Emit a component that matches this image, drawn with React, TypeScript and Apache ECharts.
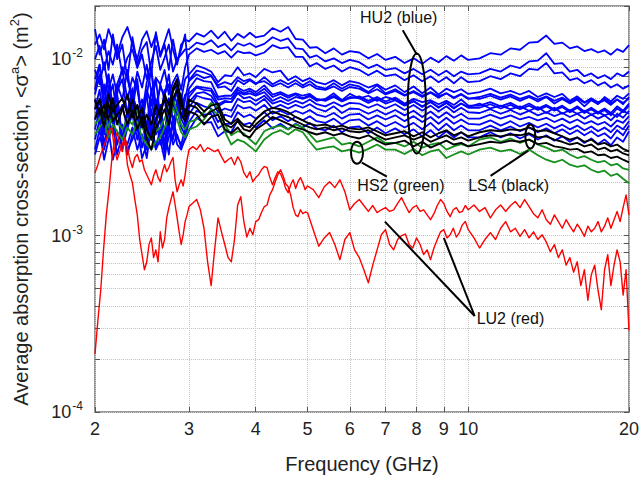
import React, { useEffect, useRef } from "react";
import * as echarts from "echarts";

// Frequency grid (GHz) for the HU2 / HS2 / LS4 curves
const FREQ_GHZ = [
  2.0, 2.04, 2.08, 2.12, 2.16, 2.2, 2.25, 2.3, 2.35, 2.4, 2.45, 2.5, 2.55, 2.6, 2.65, 2.7, 2.75, 2.8, 2.85, 2.9, 2.95,
  3.0, 3.1, 3.2, 3.3, 3.4, 3.5, 3.6, 3.7, 3.8, 3.9, 4.0,
  4.15, 4.3, 4.45, 4.6, 4.75, 4.9, 5.05, 5.2,
  5.4, 5.6, 5.8, 6.0,
  6.25, 6.5, 6.75, 7.0,
  7.3, 7.6, 7.9, 8.2, 8.5, 8.8, 9.1, 9.4, 9.7, 10.0,
  10.5, 11, 11.5, 12, 12.5, 13, 13.5, 14, 14.5, 15, 15.5, 16, 16.5, 17, 17.5, 18, 18.5, 19, 19.5, 20,
];

// Finer frequency grid (GHz) for the LU2 curves
const RED_FREQ_GHZ = [
  2.0, 2.025, 2.05, 2.075, 2.1, 2.125, 2.15, 2.175, 2.2, 2.225, 2.25, 2.275, 2.3, 2.325, 2.35, 2.375, 2.4, 2.425, 2.45, 2.475,
  2.5, 2.525, 2.55, 2.575, 2.6, 2.625, 2.65, 2.675, 2.7, 2.725, 2.75, 2.775, 2.8, 2.825, 2.85, 2.875, 2.9, 2.925, 2.95, 2.975, 3.0,
  3.05, 3.1, 3.15, 3.2, 3.25, 3.3, 3.35, 3.4, 3.45, 3.5, 3.55, 3.6, 3.65, 3.7, 3.75, 3.8, 3.85, 3.9, 3.95, 4.0,
  4.05, 4.1, 4.15, 4.2, 4.25, 4.3, 4.35, 4.4, 4.45, 4.5, 4.55, 4.6, 4.65, 4.7, 4.75, 4.8, 4.85, 4.9, 4.95, 5.0,
  5.125, 5.25, 5.375, 5.5, 5.625, 5.75, 5.875, 6.0, 6.125, 6.25, 6.375, 6.5, 6.625, 6.75, 6.875, 7.0, 7.125, 7.25, 7.375, 7.5,
  7.625, 7.75, 7.875, 8.0, 8.125, 8.25, 8.375, 8.5, 8.625, 8.75, 8.875, 9.0, 9.125, 9.25, 9.375, 9.5, 9.625, 9.75, 9.875, 10.0,
  10.25, 10.5, 10.75, 11, 11.25, 11.5, 11.75, 12, 12.25, 12.5, 12.75, 13, 13.25, 13.5, 13.75, 14, 14.25, 14.5, 14.75, 15,
  15.25, 15.5, 15.75, 16, 16.25, 16.5, 16.75, 17, 17.25, 17.5, 17.75, 18, 18.25, 18.5, 18.75, 19, 19.25, 19.5, 19.75, 20,
];

// Absorption cross-section values, in units of 1e-3 m^2
const BLUE_1 = [12.1,13.8,11.35,14.8,12.5,10.6,13.3,15.2,12.1,10,12.9,14.4,11.7,13.8,10.6,12.5,14.8,11.35,9.3,12.1,12.9, 12.6,14.0,13.4,14.5,13.1,14.3,12.7,13.9,13.2,14.1,13.3, 13.6,15.0,14.3,15.2,13.0,12.9,11.6,11.7, 10.8,11.5,10.6,11.1, 10.9,10.1,10.7,9.9, 10.3,9.5,10.1,9.4,10.2,9.6,10.4,9.8,10.5,9.9, 10.1,10.8,10.6,11.5,11.3,12.4,12.5,13.6,12.2,12.4,11.5,11.8,11.1,11.4,10.9,11.2,10.6,11.4,11.0,12.0];
const BLUE_2 = [10,11.9,8.7,11.1,9.3,12.1,8.2,10.2,11.35,8.9,10.6,7.7,9.7,11.9,8.7,10.2,12.1,8.5,10,10.6,11.35, 11.4,12.4,12.1,12.8,11.7,12.2,11.2,12.3,11.9,12.3,11.7, 12.2,13.3,12.7,13.1,11.5,11.4,10.2,10.5, 9.7,10.1,9.5,9.9, 9.6,8.9,9.3,8.7, 8.9,8.3,8.8,8.2,8.7,8.1,8.6,8.0,8.5,8.2, 8.3,8.8,8.5,9.2,8.9,9.7,9.8,10.8,9.4,9.5,8.5,8.7,8.0,8.3,7.8,8.1,7.7,8.3,8.0,8.5];
const BLUE_3 = [8.7,7.2,9.6,6.7,8.2,6.3,9.0,7.7,5.9,8.5,6.9,9.3,6.5,7.85,7.2,8.7,6.3,7.4,8.2,6.7,9.0, 10.6,11.5,11.0,11.3,10.7,11.1,10.2,11.1,10.8,10.9,10.5, 10.9,12.0,11.5,11.7,10.3,10.3,9.1,9.5, 8.8,9.2,8.5,9.0, 8.7,8.1,8.6,8.0, 8.2,7.6,8.1,7.5,8.0,7.4,7.9,7.3,7.9,7.4, 7.5,8.0,7.7,8.3,8.0,8.8,8.7,9.5,8.3,8.4,7.6,7.8,7.3,7.6,7.1,7.4,6.9,7.2,6.8,7.1];
const BLUE_4 = [7.7,9.3,6.3,8.2,5.2,7.2,8.7,5.9,7.85,6.7,4.85,7.4,8.7,5.5,6.9,6.3,8.2,5.2,7.2,5.9,7.7, 8.2,9.2,8.9,8.5,7.4,8.1,8.0,9.0,8.1,8.3,7.9, 8.8,8.4,8.6,7.6,8.0,7.5,7.8,7.4, 7.2,7.6,7.1,7.5, 7.3,6.9,7.2,6.7, 7.1,6.5,7.0,6.4,6.9,6.3,6.8,6.5,6.75,6.35, 6.5,6.8,6.4,6.6,6.3,6.6,6.1,6.4,6.1,6.35,5.8,6.15,5.7,6.0,5.7,5.95,5.6,5.9,5.55,6.1];
const BLUE_5 = [6.3,8.2,5.2,6.85,4.55,6.6,7.7,4.85,6.1,7.2,4.26,6.7,5.5,7.7,4.7,6.3,7.2,5.3,6.6,4.55,5.9, 7.6,8.6,8.4,8.1,6.9,7.0,6.6,7.6,7.2,7.6,7.2, 7.9,7.2,7.6,7.2,7.6,7.1,7.5,7.0, 6.8,7.3,6.8,7.2, 7.0,6.5,7.1,6.4, 6.75,6.25,6.6,6.2,6.5,6.15,6.4,6.05,6.35,6.0, 5.95,6.2,5.9,6.15,5.8,6.1,5.75,6.1,5.6,5.95,5.6,5.9,5.4,5.85,5.55,6.1,5.75,6.2,5.95,6.4];
const BLUE_6 = [5.2,6.7,4.26,5.9,7.2,4.7,5.5,4.0,6.3,5.1,5.9,4.1,6.7,4.85,5.5,3.74,6.0,4.55,5.2,6.3,4.85, 6.8,7.8,7.5,7.4,6.1,6.2,6.2,6.9,6.6,6.8,6.5, 7.1,6.3,6.5,6.2,6.4,6.2,6.35,5.95, 5.8,6.1,5.75,6.0, 6.15,5.8,6.1,5.75, 6.05,5.6,5.95,5.7,5.85,5.55,5.8,5.5,5.9,5.45, 5.45,5.7,5.4,5.65,5.3,5.6,5.25,5.5,5.2,5.45,5.1,5.4,5.05,5.3,5.0,5.25,4.95,5.4,5.1,5.6];
const BLUE_7 = [5.9,4.55,7.2,4.0,5.3,6.3,3.5,5.05,6.85,4.26,5.5,6.3,3.74,5.9,4.55,6.7,4.1,5.5,4.85,5.9,4.26, 5.7,6.4,6.5,6.2,5.4,5.7,5.7,6.5,6.3,6.4,6.2, 6.5,5.8,6.1,5.8,6.1,5.95,6.15,5.8, 5.95,6.4,5.85,6.35, 6.0,6.2,5.8,6.1, 5.9,5.5,5.8,5.35,5.75,5.3,5.65,5.25,5.6,5.35, 5.6,5.25,5.45,5.2,5.4,5.1,5.35,4.95,5.3,4.9,5.15,4.9,5.1,4.85,5.0,4.8,4.95,4.7,5.1,4.9];
const BLUE_8 = [4.55,5.9,3.74,5.2,4.26,6.3,3.5,4.6,5.5,4.0,5.05,3.5,5.9,4.26,5.2,3.28,4.85,4.0,5.9,4.6,4.1, 6.1,6.9,6.7,6.6,5.55,5.8,5.7,6.4,6.0,6.1,5.8, 6.2,5.6,5.8,5.55,5.8,5.6,5.9,5.55, 5.4,5.7,5.4,5.65, 5.6,5.3,5.55,5.25, 5.55,5.15,5.5,5.1,5.45,5.05,5.4,5.0,5.3,5.0, 4.95,5.2,4.9,5.15,4.85,5.1,4.8,5.0,4.75,4.95,4.7,4.9,4.6,4.85,4.6,4.8,4.5,4.9,4.65,5.1];
const BLUE_9 = [4.0,5.2,3.28,4.55,3.74,5.5,3.07,4.1,4.85,3.5,4.55,3.07,5.2,3.74,4.6,3.07,4.26,3.5,5.2,4.1,3.74, 5.3,6.2,6.0,5.9,5.0,5.25,5.1,5.95,5.7,5.8,5.5, 5.95,5.25,5.5,5.25,5.5,5.3,5.55,5.25, 5.05,5.4,4.95,5.25, 5.2,4.9,5.15,4.85, 5.15,4.8,5.1,4.7,5.05,4.65,5.0,4.65,4.9,4.6, 4.6,4.85,4.6,4.8,4.55,4.7,4.5,4.65,4.4,4.6,4.35,4.55,4.3,4.45,4.25,4.4,4.15,4.5,4.35,4.75];
const BLUE_10 = [3.5,4.55,3.07,4.0,4.85,3.28,4.26,2.88,3.74,4.55,3.15,4.1,3.5,4.6,3.28,4.0,2.88,4.55,3.6,3.28,4.0, 4.85,5.65,5.4,5.25,4.4,4.85,4.7,5.5,5.25,5.35,5.1, 5.5,4.9,5.1,4.85,5.1,4.9,5.15,4.85, 4.7,4.95,4.6,4.85, 4.9,4.55,4.8,4.55, 4.8,4.45,4.75,4.4,4.7,4.3,4.65,4.3,4.55,4.3, 4.25,4.5,4.2,4.45,4.15,4.35,4.1,4.3,4.05,4.25,4.0,4.2,3.95,4.15,3.9,4.1,3.85,4.2,4.0,4.45];
const BLUE_11 = [3.07,4.0,2.69,3.5,4.26,2.88,3.74,3.28,4.1,3.07,3.74,2.75,4.26,3.15,4.0,2.95,3.6,4.26,3.28,3.07,3.6, 4.4,5.1,4.85,4.9,4.05,4.3,4.3,5.0,4.7,4.85,4.6, 5.0,4.5,4.75,4.45,4.7,4.5,4.75,4.45, 4.35,4.6,4.25,4.5, 4.55,4.2,4.45,4.15, 4.4,4.1,4.35,4.0,4.35,3.95,4.3,3.95,4.2,3.95, 3.95,4.2,3.95,4.15,3.9,4.1,3.85,4.05,3.8,4.0,3.75,3.95,3.7,3.9,3.65,3.8,3.55,3.95,3.7,4.2];
const BLUE_12 = [2.88,3.6,3.15,4.0,2.69,3.4,3.74,3.07,3.5,4.1,2.75,3.28,3.9,3.07,3.5,2.69,4.1,3.28,3.74,3.15,3.5, 3.95,4.65,4.35,4.4,3.65,3.9,3.85,4.5,4.25,4.35,4.1, 4.5,4.05,4.3,4.0,4.3,4.1,4.35,4.05, 3.95,4.2,3.85,4.1, 4.15,3.8,4.1,3.8, 4.05,3.75,4.0,3.65,3.95,3.6,3.9,3.6,3.85,3.6, 3.6,3.85,3.6,3.8,3.55,3.75,3.5,3.7,3.45,3.65,3.4,3.6,3.35,3.55,3.3,3.5,3.25,3.6,3.4,3.9];
const BLUE_13 = [14.8,10.6,12.9,8.7,13.8,10,12.1,7.7,13.3,9.3,11.35,12.5,8.2,14.2,10.3,12.1,8.7,12.9,9.7,11.35,13.8, 7.5,8.2,7.8,8.0,7.1,7.4,7.2,7.9,7.5,7.7,7.3, 7.5,7.0,7.3,6.9,7.3,6.9,7.2,6.8, 6.7,7.0,6.6,6.95, 6.8,6.4,6.75,6.3, 6.6,6.2,6.5,6.1,6.45,6.05,6.4,6.0,6.3,5.95, 6.1,6.35,6.05,6.3,5.95,6.2,5.9,6.15,5.8,6.05,5.7,6.0,5.65,5.9,5.6,5.85,5.5,5.9,5.65,6.0];
const BLUE_14 = [6.7,9.3,5.5,8.2,4.55,7.2,5.9,8.7,5.2,7.7,4.26,6.3,8.7,4.85,7.2,5.9,4.0,6.7,7.7,5.2,6.3, 6.4,7.0,6.9,6.8,5.9,6.0,5.95,6.7,6.4,6.6,6.3, 6.8,6.1,6.35,6.05,6.3,6.0,6.25,5.9, 5.9,6.2,5.8,6.1, 6.0,5.65,5.95,5.6, 5.85,5.45,5.75,5.4,5.7,5.35,5.65,5.3,5.6,5.3, 5.3,5.55,5.25,5.5,5.2,5.45,5.15,5.4,5.1,5.35,5.0,5.3,4.95,5.2,4.9,5.15,4.8,5.25,5.0,5.45];

const GREEN_1 = [4.26,4.6,5.2,4.1,4.85,4.45,4.0,4.6,4.26,5.1,4.1,3.74,3.5,3.9,4.1,4.6,5.2,5.9,5.1,4.26,4.0, 4.4,4.55,5.0,5.65,5.3,4.26,3.7,3.9,3.8,3.5,3.28, 3.9,4.1,4.2,4.0,4.26,4.1,3.74,3.4, 3.5,3.6,3.28,3.35, 3.2,3.4,3.6,3.35, 3.35,3.2,3.4,3.15,3.28,3.35,3.07,3.2,3.3,3.2, 3.5,3.6,3.4,3.55,3.35,3.5,3.28,3.15,3.0,3.07,2.88,2.75,2.82,2.69,2.6,2.65,2.5,2.55,2.4,2.36];
const GREEN_2 = [3.74,4.1,4.45,3.6,4.26,3.9,3.5,4.1,3.74,4.45,3.6,3.28,3.07,3.4,3.6,4.1,4.55,5.3,4.55,3.85,3.6, 4.0,4.15,4.55,5.2,4.85,3.9,3.28,3.5,3.4,3.2,3.0, 3.5,3.8,3.95,3.74,4.0,3.85,3.4,3.07, 3.15,3.2,3.0,3.07, 2.95,3.1,3.28,3.07, 3.07,2.9,3.1,2.85,3.0,3.07,2.75,2.88,3.0,2.88, 3.07,3.15,3.0,3.07,2.9,3.07,2.85,2.69,2.6,2.69,2.52,2.45,2.5,2.36,2.28,2.33,2.18,2.24,2.1,1.98];

const BLACK_1 = [5.2,5.9,4.7,6.3,5.05,5.5,6.0,4.85,5.9,4.55,5.3,4.0,3.5,4.6,5.2,5.9,4.85,6.9,7.7,5.5,5.05, 5.5,5.3,4.7,5.05,5.3,4.26,4.1,4.45,4.0,3.9,4.26, 4.7,5.05,4.85,4.7,4.45,4.26,4.1,4.0, 4.1,3.95,4.05,3.9, 3.85,3.95,3.7,3.5, 3.6,3.7,3.5,3.65,3.4,3.55,3.7,3.5,3.6,3.45, 3.6,3.7,3.65,3.74,3.7,3.8,3.6,3.65,3.5,3.4,3.28,3.35,3.2,3.28,3.07,3.15,3.0,3.07,2.92,2.85];
const BLACK_2 = [4.55,5.3,4.1,5.6,4.45,4.85,5.3,4.26,5.1,4.0,4.7,3.5,3.07,4.1,4.55,5.2,4.26,6.0,6.7,4.85,4.45, 5.05,4.85,4.26,4.7,4.85,4.0,3.8,4.1,3.7,3.6,4.0, 4.3,4.7,4.5,4.3,4.1,4.0,3.85,3.74, 3.85,3.7,3.8,3.65, 3.55,3.7,3.45,3.28, 3.35,3.45,3.2,3.4,3.15,3.3,3.45,3.28,3.35,3.2, 3.3,3.4,3.35,3.45,3.4,3.5,3.3,3.35,3.2,3.15,3.07,3.1,2.95,3.0,2.85,2.88,2.75,2.8,2.69,2.6];
const BLACK_3 = [5.9,4.85,5.5,4.55,6.0,4.26,5.2,6.3,4.7,5.5,4.1,4.85,4.26,5.5,4.7,6.3,5.5,6.6,7.2,6.0,4.7, 5.9,5.6,5.05,5.45,5.6,4.55,4.3,4.6,4.2,4.1,4.55, 5.05,5.3,5.2,5.0,4.7,4.5,4.3,4.2, 4.26,4.1,4.2,4.05, 4.0,4.1,3.9,3.7, 3.8,3.9,3.65,3.85,3.6,3.8,3.95,3.7,3.85,3.65, 3.85,3.95,3.9,4.0,3.95,4.1,3.9,3.95,3.8,3.65,3.5,3.6,3.4,3.5,3.28,3.35,3.2,3.28,3.1,3.0];

// LU2 curves on RED_FREQ_GHZ
const RED_1 = [
  2.27,2.52,2.88,3.19,3.5,3.95,4.09,3.07,2.69,2.99,3.28,3.6,3.15,2.69,2.43,2.77,2.88,2.62,2.69,2.36,2.21,2.07,1.94,2.18,2.36,2.13,2.02,2.3,2.52,2.3,2.43,2.62,2.77,2.07,1.77,1.94,2.07,1.91,2.21,2.69,3.07,
  3.19,3.07,3.28,2.99,3.15,3.07,2.99,3.07,2.8,2.59,2.69,2.77,2.52,2.8,2.62,2.27,2.13,2.3,2.02,2.13,2.21,2.36,2.46,2.43,2.13,1.94,2.13,2.3,2.24,2.07,1.85,1.75,1.94,2.07,1.85,2.02,2.13,1.99,1.82,1.91,
  1.82,1.64,1.89,2.02,1.87,2.07,1.77,1.4,1.52,1.6,1.48,1.37,1.48,1.35,1.4,1.44,1.37,1.4,1.52,1.64,1.48,1.35,1.44,1.48,1.37,1.4,1.31,1.23,1.33,1.48,1.6,1.52,1.37,1.28,1.4,1.44,1.35,1.37,1.48,1.4,
  1.49,1.37,1.44,1.26,1.4,1.49,1.37,1.48,1.56,1.44,1.6,1.46,1.33,1.26,1.4,1.23,1.16,1.31,1.2,1.1,1.23,1.13,1.05,1.16,1.08,0.99,1.13,1.05,1.1,1.2,1.05,1.13,1.26,1.1,1.23,1.37,1.2,1.44,1.7,1.31,
];
const RED_2 = [
  0.213,0.33,0.49,0.83,1.31,1.82,2.69,3.5,3.83,3.28,2.99,3.5,2.52,2.21,1.99,1.6,1.31,0.95,0.78,0.64,0.71,0.89,0.97,0.75,0.83,0.71,1.05,0.85,0.95,1.26,1.44,1.6,1.77,1.5,1.26,1.05,0.89,1.01,1.2,1.31,1.46,
  1.53,1.6,1.4,1.1,0.71,0.52,0.83,1.26,1.05,0.89,0.75,0.71,0.95,1.49,1.66,1.2,0.98,1.1,1.01,1.2,1.23,1.35,1.46,1.49,1.7,1.82,2.02,2.21,2.36,2.18,1.97,1.89,1.7,1.44,1.31,1.28,1.4,1.33,1.36,1.35,
  1.08,0.87,0.97,1.04,0.89,0.73,0.95,1.04,0.83,0.75,0.64,0.54,0.68,0.83,1.01,1.08,0.89,0.83,0.95,1.0,1.02,0.89,0.85,0.97,0.89,0.78,0.83,0.73,0.85,0.95,1.05,1.08,0.97,1.01,1.1,0.98,1.04,1.15,1.2,1.08,
  0.97,0.85,0.95,1.04,0.95,1.1,1.2,1.05,1.1,0.99,1.08,0.97,1.05,0.95,1.01,0.92,0.81,0.89,0.75,0.83,0.68,0.75,0.62,0.71,0.52,0.64,0.43,0.6,0.68,0.49,0.38,0.64,0.78,0.52,0.68,0.83,0.71,0.46,0.64,0.29,
];

const BLUE_SET = [BLUE_1, BLUE_2, BLUE_3, BLUE_4, BLUE_5, BLUE_6, BLUE_7, BLUE_8, BLUE_9, BLUE_10, BLUE_11, BLUE_12, BLUE_13, BLUE_14];
const GREEN_SET = [GREEN_1, GREEN_2];
const BLACK_SET = [BLACK_1, BLACK_2, BLACK_3];
const RED_SET = [RED_1, RED_2];

// Axes
const X_RANGE = [2, 20];
const Y_RANGE = [1e-4, 2e-2];
const X_TICKS = [2, 3, 4, 5, 6, 7, 8, 9, 10, 20];
const Y_LABEL_TICKS = [1e-4, 1e-3, 1e-2];
const Y_TICKS = [1e-4, 2e-4, 3e-4, 4e-4, 5e-4, 6e-4, 7e-4, 8e-4, 9e-4, 1e-3, 2e-3, 3e-3, 4e-3, 5e-3, 6e-3, 7e-3, 8e-3, 9e-3, 1e-2, 2e-2];

// Annotations: [frequency GHz, value 1e-3 m^2]
const ANNOT_TEXTS = [
  { text: "HU2 (blue)", at: [7.41, 17.3], align: "center" },
  { text: "HS2 (green)", at: [7.48, 1.91], align: "center" },
  { text: "LS4 (black)", at: [11.9, 1.91], align: "center" },
  { text: "LU2 (red)", at: [10.37, 0.34], align: "left" },
];
const ANNOT_LINES = [
  [[7.54, 14.56], [8.01, 10.63]],
  [[6.32, 2.59], [7.04, 2.16]],
  [[12.96, 3.03], [11.01, 2.18]],
  [[10.28, 0.35], [6.98, 1.2]],
  [[10.28, 0.35], [9.0, 0.97]],
];
const ANNOT_ELLIPSES = [
  { at: [8.01, 5.6], rx: 9, ry: 50 },
  { at: [6.19, 2.95], rx: 6, ry: 11 },
  { at: [13.07, 3.64], rx: 5, ry: 12 },
];

const FONT = "'Liberation Sans', Arial, Helvetica, sans-serif";
const lg = Math.log10;
const toData = (f: number, v: number) => [lg(f), lg(v * 1e-3)];

function makeSeries(set: number[][], freqs: number[], color: string, width: number) {
  return set.map((vals) => ({
    type: "line",
    data: freqs.map((f, i) => toData(f, vals[i])),
    showSymbol: false,
    symbol: "none",
    silent: true,
    lineStyle: { color, width, join: "round" },
    itemStyle: { color },
  }));
}

export default function App() {
  const ref = useRef<HTMLDivElement>(null);
  useEffect(() => {
    document.body.style.margin = "0";
    if (!ref.current) return;
    const chart = echarts.init(ref.current, undefined, { renderer: "svg" });
    const xTicks = X_TICKS.map(lg);
    const yTicks = Y_TICKS.map(lg);
    const yLabels = Y_LABEL_TICKS.map(lg);
    const tickStyle = { color: "#555", width: 1 };
    const option: any = {
      animation: false,
      textStyle: { fontFamily: FONT },
      grid: { left: 93, right: 13, top: 6, bottom: 69, show: true, borderColor: "#777", borderWidth: 1.5 },
      xAxis: [
        {
          type: "value",
          min: lg(X_RANGE[0]),
          max: lg(X_RANGE[1]),
          position: "bottom",
          axisLine: { show: false },
          axisTick: { show: true, inside: true, length: 5, customValues: xTicks, lineStyle: tickStyle },
          axisLabel: {
            customValues: xTicks,
            formatter: (v: number) => String(Math.round(Math.pow(10, v))),
            fontSize: 18,
            color: "#222",
            margin: 8,
            fontFamily: FONT,
          },
          splitLine: { show: true, lineStyle: { color: "#c4c4c4", type: "dotted", width: 1 } },
          name: "Frequency (GHz)",
          nameLocation: "middle",
          nameGap: 42,
          nameTextStyle: { fontSize: 20, color: "#222", fontFamily: FONT },
        },
        {
          type: "value",
          min: lg(X_RANGE[0]),
          max: lg(X_RANGE[1]),
          position: "top",
          axisLine: { show: false },
          axisTick: { show: true, inside: true, length: 5, customValues: xTicks, lineStyle: tickStyle },
          axisLabel: { show: false },
          splitLine: { show: false },
        },
      ],
      yAxis: [
        {
          type: "value",
          min: lg(Y_RANGE[0]),
          max: lg(Y_RANGE[1]),
          position: "left",
          axisLine: { show: false },
          axisTick: { show: true, inside: true, length: 5, customValues: yTicks, lineStyle: tickStyle },
          axisLabel: {
            customValues: yLabels,
            formatter: (v: number) => `{b|10}{s|${Math.round(v)}}`,
            margin: 12,
            rich: {
              b: { fontSize: 18, color: "#222", fontFamily: FONT },
              s: { fontSize: 12, color: "#222", fontFamily: FONT, padding: [0, 0, 12, 1] },
            },
          },
          splitLine: { show: true, lineStyle: { color: "#c4c4c4", type: "dotted", width: 1 } },
          name: "Average absorption cross-section, <σ{s|a}> (m{s|2})",
          nameLocation: "middle",
          nameGap: 62,
          nameRotate: 90,
          nameTextStyle: {
            fontSize: 20,
            color: "#222",
            fontFamily: FONT,
            rich: { s: { fontSize: 13, color: "#222", fontFamily: FONT, padding: [0, 0, 12, 0] } },
          },
        },
        {
          type: "value",
          min: lg(Y_RANGE[0]),
          max: lg(Y_RANGE[1]),
          position: "right",
          axisLine: { show: false },
          axisTick: { show: true, inside: true, length: 5, customValues: yTicks, lineStyle: tickStyle },
          axisLabel: { show: false },
          splitLine: { show: false },
        },
      ],
      series: [
        ...makeSeries(BLUE_SET, FREQ_GHZ, "#0000ff", 1.8),
        ...makeSeries(GREEN_SET, FREQ_GHZ, "#16901c", 1.8),
        ...makeSeries(BLACK_SET, FREQ_GHZ, "#000000", 1.9),
        ...makeSeries(RED_SET, RED_FREQ_GHZ, "#ff0000", 1.4),
      ],
    };
    chart.setOption(option);

    const px = (p: number[]) => chart.convertToPixel({ gridIndex: 0 }, toData(p[0], p[1])) as number[];
    const graphic: any[] = [];
    ANNOT_LINES.forEach(([a, b]) => {
      const p1 = px(a);
      const p2 = px(b);
      graphic.push({
        type: "line",
        shape: { x1: p1[0], y1: p1[1], x2: p2[0], y2: p2[1] },
        style: { stroke: "#000", lineWidth: 2 },
        z: 100,
      });
    });
    ANNOT_ELLIPSES.forEach((e) => {
      const c = px(e.at);
      graphic.push({
        type: "ellipse",
        shape: { cx: c[0], cy: c[1], rx: e.rx, ry: e.ry },
        style: { fill: "none", stroke: "#000", lineWidth: 2 },
        z: 100,
      });
    });
    ANNOT_TEXTS.forEach((t) => {
      const c = px(t.at);
      graphic.push({
        type: "text",
        x: c[0],
        y: c[1],
        style: {
          text: t.text,
          fill: "#111",
          font: `16px ${FONT}`,
          textAlign: t.align,
          textVerticalAlign: "middle",
        },
        z: 100,
      });
    });
    chart.setOption({ graphic });

    return () => chart.dispose();
  }, []);
  return <div ref={ref} style={{ width: 642, height: 481 }} />;
}
